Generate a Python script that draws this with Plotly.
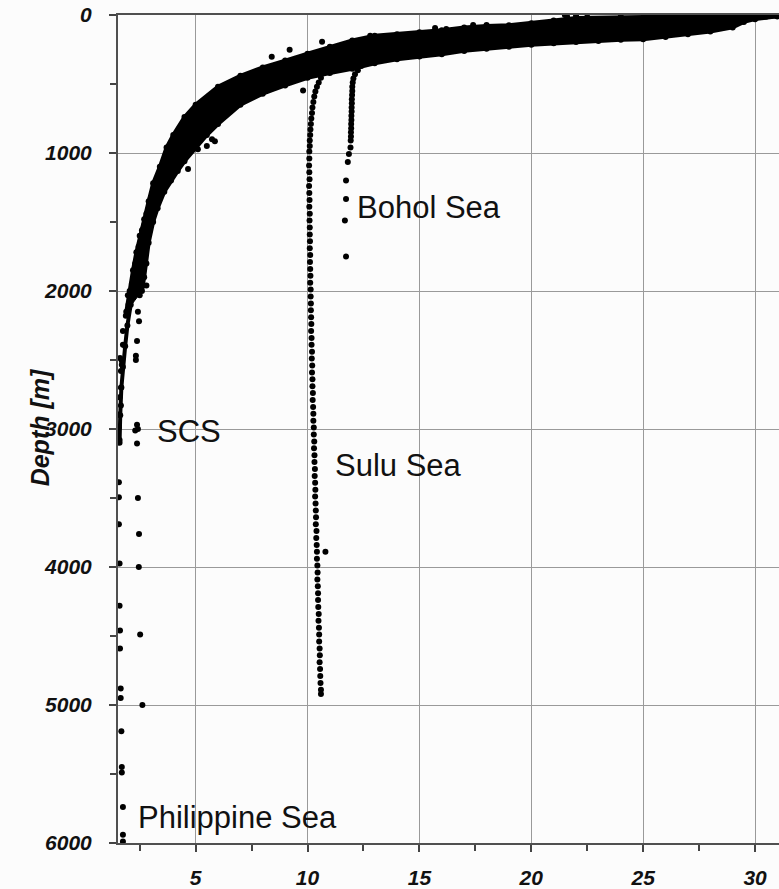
import plotly.graph_objects as go

# ---------------- data (temperature [deg C], depth [m]) ----------------
# main thermocline band, read as several profiles across the band
band_upper_t = [30.8, 30.0, 28.0, 26.0, 24.0, 22.5, 22.0, 21.0, 20.0, 19.0, 18.0, 17.0, 16.0, 15.0, 14.0, 13.0, 12.0, 11.0, 10.0, 9.0, 8.0, 7.0, 6.0, 5.0, 4.5, 4.0, 3.7, 3.4, 3.1, 2.9, 2.7, 2.5, 2.35, 2.2, 2.05, 1.9]
band_upper_d = [0, 2, 5, 10, 12, 15, 22, 40, 60, 75, 80, 90, 110, 125, 140, 150, 185, 230, 280, 330, 380, 440, 520, 650, 740, 870, 960, 1100, 1220, 1350, 1480, 1600, 1720, 1850, 2000, 2150]

band_umid_t = [30.9, 30.0, 29.0, 28.0, 27.0, 26.0, 25.0, 24.0, 23.0, 22.0, 21.0, 20.0, 19.0, 18.0, 17.0, 16.0, 15.0, 14.0, 13.0, 12.0, 11.0, 10.0, 9.0, 8.0, 7.0, 6.0, 5.0, 4.5, 4.0, 3.6, 3.3, 3.0, 2.8, 2.6, 2.45, 2.3, 2.15]
band_umid_d = [3, 10, 15, 30, 40, 45, 50, 55, 60, 65, 80, 100, 115, 120, 135, 150, 170, 185, 200, 230, 270, 320, 375, 425, 500, 600, 735, 830, 950, 1060, 1190, 1320, 1440, 1560, 1680, 1800, 1950]

band_center_t = [31.0, 30.5, 30.0, 29.5, 29.0, 28.0, 27.0, 26.0, 25.0, 24.0, 23.0, 22.0, 21.0, 20.0, 19.0, 18.0, 17.0, 16.0, 15.0, 14.0, 13.0, 12.0, 11.0, 10.0, 9.0, 8.0, 7.0, 6.0, 5.0, 4.5, 4.0, 3.6, 3.3, 3.0, 2.8, 2.6, 2.45, 2.3, 2.1, 1.95, 1.85, 1.75, 1.68, 1.63, 1.6]
band_center_d = [5, 10, 20, 25, 40, 60, 75, 85, 95, 100, 105, 110, 125, 140, 155, 165, 180, 195, 215, 230, 255, 280, 310, 360, 420, 470, 560, 680, 820, 920, 1030, 1150, 1280, 1400, 1520, 1650, 1800, 1950, 2100, 2250, 2400, 2550, 2700, 2900, 3100]

band_lmid_t = [31.0, 30.0, 29.5, 29.0, 28.0, 27.0, 26.0, 25.0, 24.0, 23.0, 22.0, 21.0, 20.0, 19.0, 18.0, 17.0, 16.0, 15.0, 14.0, 13.0, 12.0, 11.0, 10.0, 9.0, 8.0, 7.0, 6.0, 5.5, 5.0, 4.5, 4.0, 3.7, 3.4, 3.1, 2.9, 2.75, 2.6, 2.5]
band_lmid_d = [8, 25, 35, 65, 90, 108, 122, 135, 140, 146, 152, 165, 178, 192, 205, 220, 240, 258, 275, 300, 335, 365, 405, 465, 520, 605, 735, 800, 890, 990, 1100, 1180, 1300, 1440, 1560, 1700, 1850, 1950]

band_lower_t = [31.0, 30.0, 29.5, 29.0, 28.0, 27.0, 26.0, 25.0, 24.0, 23.0, 22.0, 21.0, 20.0, 19.0, 18.0, 17.0, 16.0, 15.0, 14.0, 13.0, 12.0, 11.0, 10.0, 9.0, 8.0, 7.0, 6.0, 5.5, 5.0, 4.5, 4.2, 3.9, 3.6, 3.3, 3.1, 2.9, 2.8, 2.7, 2.6]
band_lower_d = [10, 30, 50, 90, 120, 140, 160, 175, 180, 188, 195, 205, 215, 230, 245, 260, 285, 300, 320, 350, 390, 420, 455, 510, 570, 650, 790, 870, 960, 1060, 1130, 1200, 1280, 1400, 1500, 1650, 1800, 1900, 2000]

# scattered single readings around the band
scatter_t = [21.5, 22.0, 21.6, 18.0, 17.4, 16.2, 15.7, 12.8, 10.65, 9.2, 8.4, 9.8, 5.86, 5.5, 5.1, 4.66, 5.73, 2.8, 2.65, 2.5, 2.42, 2.47, 2.0, 1.97, 1.88, 1.75, 1.75, 1.7, 1.66]
scatter_d = [0, 7, 14, 72, 72, 101, 94, 151, 194, 252, 302, 547, 914, 950, 972, 1116, 900, 1960, 1960, 2030, 2150, 2220, 2100, 2030, 2180, 2290, 2390, 2505, 2580]

# South China Sea deep readings
scs_t = [2.38, 2.33, 2.33, 2.38, 2.42, 2.3, 2.38, 2.42, 2.47, 2.46, 2.52, 2.62]
scs_d = [2363, 2470, 2500, 2970, 3000, 3010, 3105, 3500, 3760, 4000, 4490, 5000]

# Philippine Sea deep readings
phil_t = [1.62, 1.7, 1.66, 1.6, 1.66, 1.57, 1.57, 1.6, 1.57, 1.57, 1.57, 1.6, 1.6, 1.62, 1.62, 1.65, 1.65, 1.68, 1.7, 1.7, 1.75, 1.75, 1.75]
phil_d = [2485, 2535, 2700, 2770, 2830, 2895, 2990, 3080, 3385, 3495, 3690, 3975, 4280, 4460, 4590, 4880, 4950, 5190, 5450, 5490, 5740, 5940, 5990]

# Sulu Sea profile
sulu_t = [11.0, 10.85, 10.7, 10.6, 10.5, 10.42, 10.35, 10.3, 10.26, 10.22, 10.2, 10.17, 10.15, 10.13, 10.12, 10.1, 10.1, 10.08,
          10.08, 10.07, 10.08, 10.09, 10.07, 10.08, 10.09, 10.08, 10.1, 10.09, 10.1, 10.1, 10.11, 10.1, 10.12, 10.11, 10.12, 10.13, 10.12, 10.14,
          10.14, 10.15, 10.15, 10.16, 10.17, 10.16, 10.18, 10.18, 10.2, 10.19, 10.21, 10.2, 10.22, 10.22, 10.24, 10.23, 10.25, 10.26, 10.26, 10.28,
          10.28, 10.3, 10.29, 10.31, 10.31, 10.33, 10.32, 10.34, 10.35, 10.34, 10.36, 10.37, 10.38, 10.37, 10.4, 10.39, 10.41, 10.42, 10.42, 10.44,
          10.45, 10.44, 10.46, 10.47, 10.47, 10.48, 10.5, 10.49, 10.51, 10.52, 10.52, 10.54, 10.55, 10.54, 10.56, 10.57, 10.58, 10.6, 10.6, 10.8]
sulu_d = [360, 385, 420, 455, 490, 520, 555, 590, 630, 670, 710, 750, 790, 830, 870, 910, 950, 990,
          1040, 1090, 1140, 1190, 1240, 1290, 1340, 1390, 1440, 1490, 1540, 1590, 1640, 1690, 1740, 1790, 1840, 1890, 1940, 1990,
          2040, 2090, 2140, 2190, 2240, 2290, 2340, 2390, 2440, 2490, 2540, 2590, 2640, 2690, 2740, 2790, 2840, 2890, 2940, 2990,
          3040, 3090, 3140, 3190, 3240, 3290, 3340, 3390, 3440, 3490, 3540, 3590, 3640, 3690, 3740, 3790, 3840, 3890, 3940, 3990,
          4040, 4090, 4140, 4190, 4240, 4290, 4340, 4390, 4440, 4490, 4540, 4590, 4640, 4690, 4740, 4790, 4840, 4890, 4920, 3890]

# Bohol Sea profile
bohol_t = [12.6, 12.4, 12.25, 12.12, 12.05, 12.02, 12.0, 12.0, 11.99, 11.98, 11.98, 11.97, 11.97, 11.96, 11.96, 11.95, 11.95, 11.94, 11.94, 11.93, 11.92, 11.85, 11.8, 11.72, 11.72, 11.67, 11.72]
bohol_d = [340, 370, 400, 430, 460, 490, 520, 550, 580, 610, 640, 670, 700, 730, 760, 790, 820, 850, 880, 910, 960, 1008, 1066, 1200, 1333, 1490, 1750]

x_ticks = [5, 10, 15, 20, 25, 30]
y_ticks = [0, 1000, 2000, 3000, 4000, 5000, 6000]

labels = ["Bohol Sea", "SCS", "Sulu Sea", "Philippine Sea"]
label_t = [12.11, 3.19, 11.13, 2.34]
label_d = [1395, 3020, 3265, 5815]

# ---------------- figure ----------------
fig = go.Figure()
dot = dict(color="black", size=6)

# envelope of the dense band (upper edge then lower edge back)
fig.add_trace(go.Scatter(x=band_upper_t + band_lower_t[::-1], y=band_upper_d + band_lower_d[::-1],
                         mode="lines", fill="toself", fillcolor="black", line=dict(color="black", width=1),
                         showlegend=False, hoverinfo="skip"))
for t, d in [(band_upper_t, band_upper_d), (band_umid_t, band_umid_d), (band_center_t, band_center_d),
             (band_lmid_t, band_lmid_d), (band_lower_t, band_lower_d)]:
    fig.add_trace(go.Scatter(x=t, y=d, mode="lines+markers", line=dict(color="black", width=4),
                             marker=dot, showlegend=False, hoverinfo="x+y"))
for t, d in [(scatter_t, scatter_d), (scs_t, scs_d), (phil_t, phil_d), (sulu_t, sulu_d), (bohol_t, bohol_d)]:
    fig.add_trace(go.Scatter(x=t, y=d, mode="markers", marker=dot, showlegend=False, hoverinfo="x+y"))

for txt, t, d in zip(labels, label_t, label_d):
    fig.add_annotation(x=t, y=d, text=txt, showarrow=False, xanchor="left", yanchor="middle",
                       font=dict(family="Liberation Sans, Arial, sans-serif", size=31, color="#111"))

fig.add_annotation(xref="paper", yref="paper", x=-0.118, y=0.502, text="Depth [m]", textangle=-90,
                   showarrow=False, xanchor="center", yanchor="middle",
                   font=dict(family="Liberation Sans, Arial, sans-serif", size=25, color="#111",
                             weight="bold", style="italic"))

tickfont = dict(family="Liberation Sans, Arial, sans-serif", size=21, color="#111", weight="bold", style="italic")
fig.update_layout(
    width=779, height=889,
    margin=dict(l=118, r=0, t=15, b=41),
    paper_bgcolor="#fcfcfc", plot_bgcolor="#fcfcfc",
    xaxis=dict(range=[1.53, 31.07], tickvals=x_ticks, ticks="outside", ticklen=7, tickwidth=1.5, tickcolor="#444",
               minor=dict(dtick=2.5, tick0=0, ticks="outside", ticklen=6, tickcolor="#444", showgrid=False),
               showgrid=True, gridcolor="#9a9a9a", gridwidth=1, zeroline=False,
               showline=True, linecolor="#505050", linewidth=2, mirror=True,
               tickfont=tickfont, ticklabelstandoff=8),
    yaxis=dict(range=[6000, 0], tickvals=y_ticks, ticks="outside", ticklen=7, tickwidth=1.5, tickcolor="#444",
               minor=dict(dtick=500, tick0=0, ticks="outside", ticklen=6, tickcolor="#444", showgrid=False),
               showgrid=True, gridcolor="#9a9a9a", gridwidth=1, zeroline=False,
               showline=True, linecolor="#505050", linewidth=2,
               tickfont=tickfont, ticklabelstandoff=13),
)

fig.write_html("out.html")
